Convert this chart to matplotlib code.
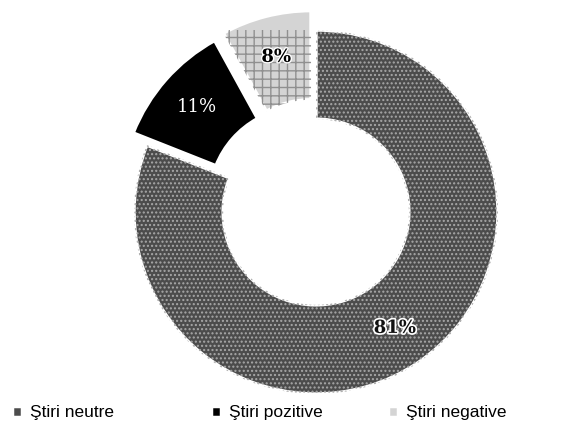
import matplotlib.pyplot as plt
import matplotlib.patheffects as pe
from matplotlib.patches import Wedge

# Date: distributia stirilor
categorii = ['Ştiri neutre', 'Ştiri pozitive', 'Ştiri negative']
procente = [81, 11, 8]

culori = ['#4c4c4c', '#000000', '#d4d4d4']
hasuri = ['....', None, '++']
culori_hasura = ['#a8a8a8', None, '#909090']
explodare = [0, 0.1, 0.11]

fig = plt.figure(figsize=(5.71, 4.33), dpi=100)
ax = fig.add_axes([(316 - 182) / 571, 1 - (212 + 182) / 433, 364 / 571, 364 / 433])

wedges, texte, procente_txt = ax.pie(
    procente, colors=culori, startangle=90, counterclock=False,
    explode=explodare, radius=1.0,
    autopct='%1.0f%%', pctdistance=0.77,
    wedgeprops=dict(width=0.49, edgecolor='white', linewidth=2.5),
    textprops=dict(family='DejaVu Serif', fontsize=13, fontweight='bold'))

# textura peste felii
for w, h, hc in zip(wedges, hasuri, culori_hasura):
    if h is None:
        continue
    ax.add_patch(Wedge(w.center, w.r, w.theta1, w.theta2, width=w.width,
                       fill=False, hatch=h, edgecolor=hc, linewidth=0))

# etichete
procente_txt[0].set_color('#111111')
procente_txt[0].set_path_effects([pe.withStroke(linewidth=2.5, foreground='white')])
procente_txt[0].set_zorder(5)
procente_txt[1].set_color('white')
procente_txt[1].set_fontweight('normal')
procente_txt[2].set_color('black')
procente_txt[2].set_path_effects([pe.withStroke(linewidth=2, foreground='white')])
procente_txt[2].set_zorder(5)

ax.set_xlim(-1, 1)
ax.set_ylim(-1, 1)
ax.set_aspect('equal')

# legenda: cate o intrare pe pozitie
poz_x = [12, 211, 388]
for w, nume, x in zip(wedges, categorii, poz_x):
    fig.legend([w], [nume], loc='center left',
               bbox_to_anchor=(x / 571, 1 - 413 / 433), frameon=False,
               prop=dict(family=['Liberation Sans Narrow', 'Liberation Sans'], size=12.5),
               handlelength=0.55, handleheight=0.55, handletextpad=0.5,
               borderpad=0, borderaxespad=0)

fig.savefig('out.png', dpi=100)
